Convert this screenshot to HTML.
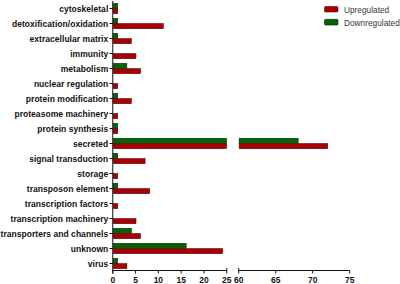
<!DOCTYPE html><html><head><meta charset="utf-8"><style>html,body{margin:0;padding:0;background:#fff;}svg{display:block}</style></head><body>
<svg width="400" height="284" viewBox="0 0 400 284" style="font-family:'Liberation Sans',sans-serif">
<rect width="400" height="284" fill="#fff"/>
<rect x="113.20" y="3.26" width="4.56" height="5.24" fill="#036305" stroke="#002800" stroke-width="0.5"/>
<rect x="113.20" y="8.50" width="4.56" height="5.24" fill="#a60004" stroke="#500000" stroke-width="0.5"/>
<rect x="113.20" y="18.26" width="4.56" height="5.24" fill="#036305" stroke="#002800" stroke-width="0.5"/>
<rect x="113.20" y="23.50" width="50.18" height="5.24" fill="#a60004" stroke="#500000" stroke-width="0.5"/>
<rect x="113.20" y="33.26" width="4.56" height="5.24" fill="#036305" stroke="#002800" stroke-width="0.5"/>
<rect x="113.20" y="38.50" width="18.25" height="5.24" fill="#a60004" stroke="#500000" stroke-width="0.5"/>
<rect x="113.20" y="53.50" width="22.81" height="5.24" fill="#a60004" stroke="#500000" stroke-width="0.5"/>
<rect x="113.20" y="63.26" width="13.69" height="5.24" fill="#036305" stroke="#002800" stroke-width="0.5"/>
<rect x="113.20" y="68.50" width="27.37" height="5.24" fill="#a60004" stroke="#500000" stroke-width="0.5"/>
<rect x="113.20" y="83.50" width="4.56" height="5.24" fill="#a60004" stroke="#500000" stroke-width="0.5"/>
<rect x="113.20" y="93.26" width="4.56" height="5.24" fill="#036305" stroke="#002800" stroke-width="0.5"/>
<rect x="113.20" y="98.50" width="18.25" height="5.24" fill="#a60004" stroke="#500000" stroke-width="0.5"/>
<rect x="113.20" y="113.50" width="4.56" height="5.24" fill="#a60004" stroke="#500000" stroke-width="0.5"/>
<rect x="113.20" y="123.26" width="4.56" height="5.24" fill="#036305" stroke="#002800" stroke-width="0.5"/>
<rect x="113.20" y="128.50" width="4.56" height="5.24" fill="#a60004" stroke="#500000" stroke-width="0.5"/>
<rect x="113.20" y="138.26" width="113.40" height="5.24" fill="#036305" stroke="#002800" stroke-width="0.5"/>
<rect x="239.10" y="138.26" width="59.12" height="5.24" fill="#036305" stroke="#002800" stroke-width="0.5"/>
<rect x="113.20" y="143.50" width="113.40" height="5.24" fill="#a60004" stroke="#500000" stroke-width="0.5"/>
<rect x="239.10" y="143.50" width="88.68" height="5.24" fill="#a60004" stroke="#500000" stroke-width="0.5"/>
<rect x="113.20" y="153.26" width="4.56" height="5.24" fill="#036305" stroke="#002800" stroke-width="0.5"/>
<rect x="113.20" y="158.50" width="31.93" height="5.24" fill="#a60004" stroke="#500000" stroke-width="0.5"/>
<rect x="113.20" y="173.50" width="4.56" height="5.24" fill="#a60004" stroke="#500000" stroke-width="0.5"/>
<rect x="113.20" y="183.26" width="4.56" height="5.24" fill="#036305" stroke="#002800" stroke-width="0.5"/>
<rect x="113.20" y="188.50" width="36.50" height="5.24" fill="#a60004" stroke="#500000" stroke-width="0.5"/>
<rect x="113.20" y="203.50" width="4.56" height="5.24" fill="#a60004" stroke="#500000" stroke-width="0.5"/>
<rect x="113.20" y="218.50" width="22.81" height="5.24" fill="#a60004" stroke="#500000" stroke-width="0.5"/>
<rect x="113.20" y="228.26" width="18.25" height="5.24" fill="#036305" stroke="#002800" stroke-width="0.5"/>
<rect x="113.20" y="233.50" width="27.37" height="5.24" fill="#a60004" stroke="#500000" stroke-width="0.5"/>
<rect x="113.20" y="243.26" width="72.99" height="5.24" fill="#036305" stroke="#002800" stroke-width="0.5"/>
<rect x="113.20" y="248.50" width="109.49" height="5.24" fill="#a60004" stroke="#500000" stroke-width="0.5"/>
<rect x="113.20" y="258.26" width="4.56" height="5.24" fill="#036305" stroke="#002800" stroke-width="0.5"/>
<rect x="113.20" y="263.50" width="13.69" height="5.24" fill="#a60004" stroke="#500000" stroke-width="0.5"/>
<line x1="112.75" y1="1" x2="112.75" y2="273.5" stroke="#111" stroke-width="1"/>
<line x1="109.5" y1="8.50" x2="112.75" y2="8.50" stroke="#111" stroke-width="1"/>
<text x="108.3" y="11.60" text-anchor="end" font-size="8.5" font-weight="bold" letter-spacing="0.04" fill="#111">cytoskeletal</text>
<line x1="109.5" y1="23.50" x2="112.75" y2="23.50" stroke="#111" stroke-width="1"/>
<text x="108.3" y="26.60" text-anchor="end" font-size="8.5" font-weight="bold" letter-spacing="0.04" fill="#111">detoxification/oxidation</text>
<line x1="109.5" y1="38.50" x2="112.75" y2="38.50" stroke="#111" stroke-width="1"/>
<text x="108.3" y="41.60" text-anchor="end" font-size="8.5" font-weight="bold" letter-spacing="0.04" fill="#111">extracellular matrix</text>
<line x1="109.5" y1="53.50" x2="112.75" y2="53.50" stroke="#111" stroke-width="1"/>
<text x="108.3" y="56.60" text-anchor="end" font-size="8.5" font-weight="bold" letter-spacing="0.04" fill="#111">immunity</text>
<line x1="109.5" y1="68.50" x2="112.75" y2="68.50" stroke="#111" stroke-width="1"/>
<text x="108.3" y="71.60" text-anchor="end" font-size="8.5" font-weight="bold" letter-spacing="0.04" fill="#111">metabolism</text>
<line x1="109.5" y1="83.50" x2="112.75" y2="83.50" stroke="#111" stroke-width="1"/>
<text x="108.3" y="86.60" text-anchor="end" font-size="8.5" font-weight="bold" letter-spacing="0.04" fill="#111">nuclear regulation</text>
<line x1="109.5" y1="98.50" x2="112.75" y2="98.50" stroke="#111" stroke-width="1"/>
<text x="108.3" y="101.60" text-anchor="end" font-size="8.5" font-weight="bold" letter-spacing="0.04" fill="#111">protein modification</text>
<line x1="109.5" y1="113.50" x2="112.75" y2="113.50" stroke="#111" stroke-width="1"/>
<text x="108.3" y="116.60" text-anchor="end" font-size="8.5" font-weight="bold" letter-spacing="0.04" fill="#111">proteasome machinery</text>
<line x1="109.5" y1="128.50" x2="112.75" y2="128.50" stroke="#111" stroke-width="1"/>
<text x="108.3" y="131.60" text-anchor="end" font-size="8.5" font-weight="bold" letter-spacing="0.04" fill="#111">protein synthesis</text>
<line x1="109.5" y1="143.50" x2="112.75" y2="143.50" stroke="#111" stroke-width="1"/>
<text x="108.3" y="146.60" text-anchor="end" font-size="8.5" font-weight="bold" letter-spacing="0.04" fill="#111">secreted</text>
<line x1="109.5" y1="158.50" x2="112.75" y2="158.50" stroke="#111" stroke-width="1"/>
<text x="108.3" y="161.60" text-anchor="end" font-size="8.5" font-weight="bold" letter-spacing="0.04" fill="#111">signal transduction</text>
<line x1="109.5" y1="173.50" x2="112.75" y2="173.50" stroke="#111" stroke-width="1"/>
<text x="108.3" y="176.60" text-anchor="end" font-size="8.5" font-weight="bold" letter-spacing="0.04" fill="#111">storage</text>
<line x1="109.5" y1="188.50" x2="112.75" y2="188.50" stroke="#111" stroke-width="1"/>
<text x="108.3" y="191.60" text-anchor="end" font-size="8.5" font-weight="bold" letter-spacing="0.04" fill="#111">transposon element</text>
<line x1="109.5" y1="203.50" x2="112.75" y2="203.50" stroke="#111" stroke-width="1"/>
<text x="108.3" y="206.60" text-anchor="end" font-size="8.5" font-weight="bold" letter-spacing="0.04" fill="#111">transcription factors</text>
<line x1="109.5" y1="218.50" x2="112.75" y2="218.50" stroke="#111" stroke-width="1"/>
<text x="108.3" y="221.60" text-anchor="end" font-size="8.5" font-weight="bold" letter-spacing="0.04" fill="#111">transcription machinery</text>
<line x1="109.5" y1="233.50" x2="112.75" y2="233.50" stroke="#111" stroke-width="1"/>
<text x="108.3" y="236.60" text-anchor="end" font-size="8.5" font-weight="bold" letter-spacing="0.04" fill="#111">transporters and channels</text>
<line x1="109.5" y1="248.50" x2="112.75" y2="248.50" stroke="#111" stroke-width="1"/>
<text x="108.3" y="251.60" text-anchor="end" font-size="8.5" font-weight="bold" letter-spacing="0.04" fill="#111">unknown</text>
<line x1="109.5" y1="263.50" x2="112.75" y2="263.50" stroke="#111" stroke-width="1"/>
<text x="108.3" y="266.60" text-anchor="end" font-size="8.5" font-weight="bold" letter-spacing="0.04" fill="#111">virus</text>
<line x1="112.75" y1="270.5" x2="226.80" y2="270.5" stroke="#111" stroke-width="1"/>
<line x1="238.7" y1="270.5" x2="349.70" y2="270.5" stroke="#111" stroke-width="1"/>
<line x1="112.75" y1="270.5" x2="112.75" y2="273.5" stroke="#111" stroke-width="1"/>
<text x="112.75" y="283" text-anchor="middle" font-size="8.5" font-weight="bold" fill="#111">0</text>
<line x1="135.56" y1="270.5" x2="135.56" y2="273.5" stroke="#111" stroke-width="1"/>
<text x="135.56" y="283" text-anchor="middle" font-size="8.5" font-weight="bold" fill="#111">5</text>
<line x1="158.37" y1="270.5" x2="158.37" y2="273.5" stroke="#111" stroke-width="1"/>
<text x="158.37" y="283" text-anchor="middle" font-size="8.5" font-weight="bold" fill="#111">10</text>
<line x1="181.18" y1="270.5" x2="181.18" y2="273.5" stroke="#111" stroke-width="1"/>
<text x="181.18" y="283" text-anchor="middle" font-size="8.5" font-weight="bold" fill="#111">15</text>
<line x1="203.99" y1="270.5" x2="203.99" y2="273.5" stroke="#111" stroke-width="1"/>
<text x="203.99" y="283" text-anchor="middle" font-size="8.5" font-weight="bold" fill="#111">20</text>
<line x1="226.80" y1="268" x2="226.80" y2="273.5" stroke="#111" stroke-width="1"/>
<text x="226.80" y="283" text-anchor="middle" font-size="8.5" font-weight="bold" fill="#111">25</text>
<line x1="238.70" y1="268" x2="238.70" y2="273.5" stroke="#111" stroke-width="1"/>
<text x="238.70" y="283" text-anchor="middle" font-size="8.5" font-weight="bold" fill="#111">60</text>
<line x1="275.70" y1="270.5" x2="275.70" y2="273.5" stroke="#111" stroke-width="1"/>
<text x="275.70" y="283" text-anchor="middle" font-size="8.5" font-weight="bold" fill="#111">65</text>
<line x1="312.70" y1="270.5" x2="312.70" y2="273.5" stroke="#111" stroke-width="1"/>
<text x="312.70" y="283" text-anchor="middle" font-size="8.5" font-weight="bold" fill="#111">70</text>
<line x1="349.70" y1="270.5" x2="349.70" y2="273.5" stroke="#111" stroke-width="1"/>
<text x="349.70" y="283" text-anchor="middle" font-size="8.5" font-weight="bold" fill="#111">75</text>
<rect x="324.5" y="6.5" width="13.5" height="5.5" rx="1.1" fill="#a60004" stroke="#500000" stroke-width="0.6"/>
<rect x="324.5" y="19.3" width="13.5" height="5.8" rx="1.1" fill="#036305" stroke="#002800" stroke-width="0.6"/>
<text x="344" y="12.5" font-size="8.3" fill="#383838">Upregulated</text>
<text x="344" y="25.6" font-size="8.3" fill="#383838">Downregulated</text>
</svg></body></html>
